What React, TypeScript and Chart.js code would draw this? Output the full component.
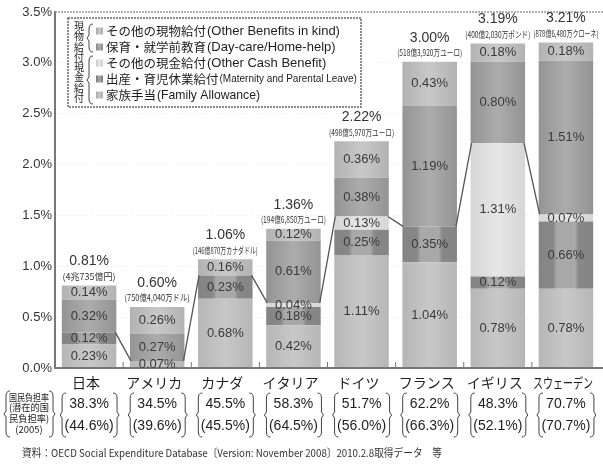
import React, { useEffect, useRef } from "react";
import { Chart, registerables } from "chart.js";
Chart.register(...registerables);

const countries = ["日本", "アメリカ", "カナダ", "イタリア", "ドイツ", "フランス", "イギリス", "スウェーデン"];
const familyAllowance = [0.23, 0.07, 0.68, 0.42, 1.11, 1.04, 0.78, 0.78];
const maternityLeave = [0.12, 0, 0.23, 0.18, 0.25, 0.35, 0.12, 0.66];
const otherCash = [0, 0, 0, 0.04, 0.13, 0, 1.31, 0.07];
const dayCare = [0.32, 0.27, 0, 0.61, 0.38, 1.19, 0.8, 1.51];
const otherInKind = [0.14, 0.26, 0.16, 0.12, 0.36, 0.43, 0.18, 0.18];
const totalLabels = ["0.81%", "0.60%", "1.06%", "1.36%", "2.22%", "3.00%", "3.19%", "3.21%"];
const amountLabels = [
  "(4兆735億円)",
  "(750億4,040万ドル)",
  "(146億870万カナダドル)",
  "(194億6,850万ユーロ)",
  "(498億5,970万ユーロ)",
  "(518億3,920万ユーロ)",
  "(400億2,030万ポンド)",
  "(878億6,480万クローネ)",
];
const burdenRates = ["38.3%", "34.5%", "45.5%", "58.3%", "51.7%", "62.2%", "48.3%", "70.7%"];
const potentialBurdenRates = ["(44.6%)", "(39.6%)", "(45.5%)", "(64.5%)", "(56.0%)", "(66.3%)", "(52.1%)", "(70.7%)"];
const legendItems = [
  { jp: "その他の現物給付", en: "(Other Benefits in kind)", enSize: 13, end: 355 },
  { jp: "保育・就学前教育", en: "(Day-care/Home-help)", enSize: 13, end: 357 },
  { jp: "その他の現金給付", en: "(Other Cash Benefit)", enSize: 13, end: 334 },
  { jp: "出産・育児休業給付", en: "(Maternity and Parental Leave)", enSize: 10, end: 358 },
  { jp: "家族手当", en: "(Family Allowance)", enSize: 13, end: 260 },
];
const footerText = "資料：OECD Social Expenditure Database〔Version: November 2008〕2010.2.8取得データ　等";
const burdenCaption = ["国民負担率", "(潜在的国", "民負担率)", "(2005)"];

const SANS = "'Liberation Sans', Arial, sans-serif";
const JP = "'Noto Sans CJK JP', sans-serif";
const CAT_PCT = 0.8;

// [edge, middle] shades per series: family, maternity, other cash, day-care, other in kind
const shades: [number, number][] = [
  [182, 200],
  [132, 168],
  [214, 230],
  [148, 172],
  [178, 200],
];
const legendOrder = [4, 3, 2, 1, 0];

function gray(v: number) {
  const c = Math.max(0, Math.min(255, Math.round(v)));
  return `rgb(${c},${c},${c})`;
}

function barFill(c: any, k: number) {
  const chart = c.chart;
  const xs = chart.scales && chart.scales.x;
  const [edge, mid] = shades[k];
  if (!xs || !chart.chartArea || c.dataIndex === undefined || !isFinite(xs.getPixelForValue(c.dataIndex))) return gray((edge + mid) / 2);
  const cx = xs.getPixelForValue(c.dataIndex);
  const w = (xs.width / countries.length) * CAT_PCT;
  const g = chart.ctx.createLinearGradient(cx - w / 2, 0, cx + w / 2, 0);
  if (k === 1) {
    g.addColorStop(0, gray(edge));
    g.addColorStop(0.27, gray(edge + 4));
    g.addColorStop(0.33, gray(mid));
    g.addColorStop(0.67, gray(mid));
    g.addColorStop(0.73, gray(edge + 4));
    g.addColorStop(1, gray(edge));
  } else {
    g.addColorStop(0, gray(edge));
    g.addColorStop(0.5, gray(mid));
    g.addColorStop(1, gray(edge));
  }
  return g;
}

function brace(ctx: CanvasRenderingContext2D, x: number, y0: number, y1: number, dir: number) {
  const mid = (y0 + y1) / 2;
  ctx.beginPath();
  ctx.moveTo(x + 4 * dir, y0);
  ctx.quadraticCurveTo(x, y0, x, y0 + 5);
  ctx.lineTo(x, mid - 3);
  ctx.lineTo(x - 2 * dir, mid);
  ctx.lineTo(x, mid + 3);
  ctx.lineTo(x, y1 - 5);
  ctx.quadraticCurveTo(x, y1, x + 4 * dir, y1);
  ctx.stroke();
}

const overlayPlugin = {
  id: "overlay",
  afterDatasetsDraw(chart: any) {
    const ctx: CanvasRenderingContext2D = chart.ctx;
    const xs = chart.scales.x;
    const ys = chart.scales.y;
    const area = chart.chartArea;
    const catW = xs.width / countries.length;
    const barW = catW * CAT_PCT;
    const series = [familyAllowance, maternityLeave, otherCash, dayCare, otherInKind];

    ctx.save();
    ctx.strokeStyle = "#999";
    ctx.lineWidth = 1.5;
    ctx.setLineDash([2, 1]);
    ctx.beginPath();
    ctx.moveTo(area.left, area.top);
    ctx.lineTo(area.right + 3, area.top);
    ctx.stroke();
    ctx.setLineDash([]);

    ctx.strokeStyle = "#777";
    ctx.lineWidth = 2;
    ctx.beginPath();
    ctx.moveTo(area.left, area.bottom);
    ctx.lineTo(area.right + 3, area.bottom);
    ctx.stroke();
    ctx.lineWidth = 1;
    for (let i = 1; i < countries.length; i++) {
      const bx = area.left + catW * i;
      ctx.beginPath();
      ctx.moveTo(bx, area.bottom);
      ctx.lineTo(bx, area.bottom - 6);
      ctx.stroke();
    }

    const cashTop = countries.map((_, i) => familyAllowance[i] + maternityLeave[i] + otherCash[i]);
    ctx.strokeStyle = "#555";
    ctx.lineWidth = 1.3;
    ctx.beginPath();
    for (let i = 0; i < countries.length - 1; i++) {
      const x0 = xs.getPixelForValue(i) + barW / 2;
      const x1 = xs.getPixelForValue(i + 1) - barW / 2;
      ctx.moveTo(x0 - 1, ys.getPixelForValue(cashTop[i]));
      ctx.lineTo(x1 + 1, ys.getPixelForValue(cashTop[i + 1]));
    }
    ctx.stroke();

    ctx.textAlign = "center";
    ctx.textBaseline = "middle";
    countries.forEach((_, i) => {
      let acc = 0;
      const cx = xs.getPixelForValue(i);
      ctx.font = `13px ${SANS}`;
      ctx.fillStyle = "#3a3a3a";
      series.forEach((s) => {
        const v = s[i];
        if (v > 0) {
          const yc = ys.getPixelForValue(acc + v / 2);
          ctx.fillText(v.toFixed(2) + "%", cx, yc);
        }
        acc += v;
      });
      const top = ys.getPixelForValue(acc);
      const pctY = Math.max(top - 24, 15);
      const subY = Math.max(top - 9, pctY + 12);
      ctx.font = `14px ${SANS}`;
      ctx.fillStyle = "#333";
      ctx.fillText(totalLabels[i], cx, pctY);
      ctx.font = `9px ${JP}`;
      ctx.fillText(amountLabels[i], cx, subY, catW - 3);
    });
    ctx.restore();
  },
  afterDraw(chart: any) {
    const ctx: CanvasRenderingContext2D = chart.ctx;
    const xs = chart.scales.x;
    const catW = xs.width / countries.length;
    ctx.save();

    ctx.fillStyle = "#fff";
    ctx.fillRect(68, 18, 293, 89);
    ctx.strokeStyle = "#666";
    ctx.lineWidth = 1.5;
    ctx.setLineDash([2, 1]);
    ctx.strokeRect(68, 18, 293, 89);
    ctx.setLineDash([]);

    ctx.fillStyle = "#222";
    ctx.textAlign = "center";
    ctx.textBaseline = "middle";
    ctx.font = `10px ${JP}`;
    const v1 = ["現", "物", "給", "付"];
    const v2 = ["現", "金", "給", "付"];
    v1.forEach((ch, k) => ctx.fillText(ch, 79, 26 + k * 10.5));
    v2.forEach((ch, k) => ctx.fillText(ch, 79, 67 + k * 10.5));
    ctx.strokeStyle = "#444";
    ctx.lineWidth = 1;
    brace(ctx, 89, 24, 52, 1);
    brace(ctx, 89, 56, 104, 1);

    const rowY = [31, 47, 63, 79, 95];
    legendItems.forEach((it, k) => {
      const y = rowY[k];
      const [edge, mid] = shades[legendOrder[k]];
      const sg = ctx.createLinearGradient(96, 0, 103, 0);
      sg.addColorStop(0, gray(edge - 10));
      sg.addColorStop(0.5, gray(mid));
      sg.addColorStop(1, gray(edge - 10));
      ctx.fillStyle = sg;
      ctx.fillRect(96, y - 3.5, 7, 7);
      ctx.fillStyle = "#1e1e1e";
      ctx.textAlign = "left";
      ctx.font = `12.5px ${JP}`;
      ctx.fillText(it.jp, 106, y);
      const jw = ctx.measureText(it.jp).width;
      ctx.font = `${it.enSize}px ${SANS}`;
      const ex = 106 + jw + 1;
      ctx.fillText(it.en, ex, y, it.end - ex);
    });

    ctx.textAlign = "center";
    countries.forEach((name, i) => {
      const cx = xs.getPixelForValue(i);
      ctx.fillStyle = "#1e1e1e";
      ctx.font = `14px ${JP}`;
      ctx.fillText(name, cx - 3, 383, catW - 8);
      ctx.font = `14px ${SANS}`;
      ctx.fillText(burdenRates[i], cx, 404);
      ctx.fillText(potentialBurdenRates[i], cx, 426);
      ctx.strokeStyle = "#444";
      ctx.lineWidth = 1;
      brace(ctx, cx - 27, 393, 437, 1);
      brace(ctx, cx + 28, 393, 437, -1);
    });

    ctx.font = `9.5px ${JP}`;
    ctx.fillStyle = "#222";
    burdenCaption.forEach((t, k) => ctx.fillText(t, 29, 397 + k * 10.8, 40));
    brace(ctx, 6, 391, 437, 1);
    brace(ctx, 53, 391, 437, -1);

    ctx.textAlign = "left";
    ctx.font = `11px ${JP}`;
    ctx.fillStyle = "#333";
    ctx.fillText(footerText, 22, 453, 420);
    ctx.restore();
  },
};

export default function App() {
  const ref = useRef<HTMLCanvasElement | null>(null);
  useEffect(() => {
    if (!ref.current) return;
    const series = [familyAllowance, maternityLeave, otherCash, dayCare, otherInKind];
    const names = ["家族手当", "出産・育児休業給付", "その他の現金給付", "保育・就学前教育", "その他の現物給付"];
    const chart = new Chart(ref.current, {
      type: "bar",
      data: {
        labels: countries,
        datasets: series.map((s, k) => ({
          label: names[k],
          data: s,
          backgroundColor: (c: any) => barFill(c, k),
          borderWidth: 0,
          categoryPercentage: CAT_PCT,
          barPercentage: 1,
        })),
      },
      options: {
        animation: false,
        responsive: false,
        maintainAspectRatio: false,
        layout: { padding: { left: 0, right: 3, top: 12, bottom: 99 } },
        plugins: { legend: { display: false }, tooltip: { enabled: false } },
        scales: {
          x: {
            stacked: true,
            ticks: { display: false },
            grid: { display: false, drawTicks: false },
            border: { display: false },
            afterFit: (s: any) => {
              s.height = 0;
            },
          },
          y: {
            stacked: true,
            min: 0,
            max: 3.5,
            ticks: {
              stepSize: 0.5,
              callback: (v: any) => Number(v).toFixed(1) + "%",
              color: "#333",
              font: { family: SANS, size: 13 },
              padding: 3,
            },
            grid: { color: "#efefef", drawTicks: false, lineWidth: 1 },
            border: { display: true, color: "#777", width: 2, dash: [2, 3] },
            afterFit: (s: any) => {
              s.width = 55;
            },
          },
        },
      },
      plugins: [overlayPlugin],
    } as any);
    return () => chart.destroy();
  }, []);
  return (
    <div style={{ position: "fixed", left: 0, top: 0, width: 603, height: 467, background: "#fff" }}>
      <canvas ref={ref} width={603} height={467} style={{ width: 603, height: 467, display: "block" }} />
    </div>
  );
}
